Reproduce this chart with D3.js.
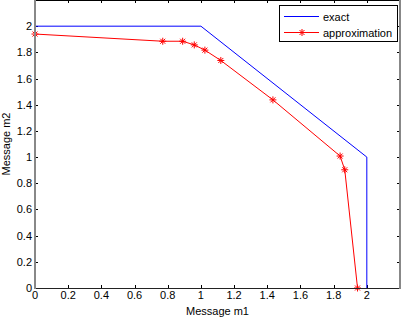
<!DOCTYPE html>
<html><head><meta charset="utf-8">
<script src="https://cdn.jsdelivr.net/npm/d3@7"></script>
<style>body{margin:0;background:#fff}svg{display:block}text{font-family:"Liberation Sans",Arial,sans-serif;font-size:11px;fill:#000}</style>
</head><body>
<script>
const exactX = [0, 1, 2, 2];
const exactY = [2, 2, 1, 0];
const approxX = [0, 0.77, 0.89, 0.96, 1.024, 1.12, 1.434, 1.839, 1.867, 1.944];
const approxY = [1.94, 1.885, 1.885, 1.857, 1.817, 1.738, 1.437, 1.008, 0.903, 0];
const xTicks = [0, 0.2, 0.4, 0.6, 0.8, 1, 1.2, 1.4, 1.6, 1.8, 2];
const yTicks = [0, 0.2, 0.4, 0.6, 0.8, 1, 1.2, 1.4, 1.6, 1.8, 2];
const seriesNames = ["exact", "approximation"];

const W = 401, H = 318;
const L = 35, R = 400, T = 0, B = 288;
const svg = d3.select("body").append("svg").attr("width", W).attr("height", H);
const x = d3.scaleLinear().domain([0, 2.2]).range([L, R]);
const y = d3.scaleLinear().domain([0, 2.2]).range([B, T]);

// ticks
const g = svg.append("g");
xTicks.forEach(v => {
  const px = Math.round(x(v)) + 0.5;
  g.append("line").attr("x1", px).attr("x2", px).attr("y1", B).attr("y2", B - 3).attr("stroke", "#000");
  g.append("line").attr("x1", px).attr("x2", px).attr("y1", T).attr("y2", T + 3).attr("stroke", "#000");
  g.append("text").attr("x", x(v)).attr("y", B + 11).attr("text-anchor", "middle").text(String(v));
});
yTicks.forEach(v => {
  const py = Math.round(y(v)) + 0.5;
  g.append("line").attr("x1", L).attr("x2", L + 3).attr("y1", py).attr("y2", py).attr("stroke", "#000");
  g.append("line").attr("x1", R).attr("x2", R - 3).attr("y1", py).attr("y2", py).attr("stroke", "#000");
  g.append("text").attr("x", L - 3).attr("y", y(v) + 4).attr("text-anchor", "end").text(String(v));
});

const line = d3.line().x(d => x(d[0])).y(d => y(d[1]));
const exact = exactX.map((v, i) => [v, exactY[i]]);
const approx = approxX.map((v, i) => [v, approxY[i]]);
svg.append("path").attr("d", line(exact)).attr("fill", "none").attr("stroke", "#0000ff").attr("stroke-width", 1);
svg.append("path").attr("d", line(approx)).attr("fill", "none").attr("stroke", "#ff0000").attr("stroke-width", 1);

function star(gs, cx, cy) {
  const s = 3.5, d = 2.5;
  const p = `M${cx - s},${cy}L${cx + s},${cy}M${cx},${cy - s}L${cx},${cy + s}M${cx - d},${cy - d}L${cx + d},${cy + d}M${cx - d},${cy + d}L${cx + d},${cy - d}`;
  gs.append("path").attr("d", p).attr("stroke", "#ff0000").attr("stroke-width", 1).attr("fill", "none");
}
const mg = svg.append("g");
approx.forEach(d => star(mg, x(d[0]), y(d[1])));

// frame
svg.append("line").attr("x1", L).attr("x2", R).attr("y1", T + 0.5).attr("y2", T + 0.5).attr("stroke", "#000");
svg.append("line").attr("x1", L).attr("x2", R + 1).attr("y1", B + 0.5).attr("y2", B + 0.5).attr("stroke", "#222");
svg.append("line").attr("x1", L).attr("x2", L).attr("y1", T).attr("y2", B + 1).attr("stroke", "#888").attr("stroke-width", 2);
svg.append("line").attr("x1", R).attr("x2", R).attr("y1", T).attr("y2", B + 1).attr("stroke", "#888").attr("stroke-width", 2);

// legend
const lg = svg.append("g");
lg.append("rect").attr("x", 279.5).attr("y", 5.5).attr("width", 118).attr("height", 36).attr("fill", "#fff").attr("stroke", "#000");
lg.append("line").attr("x1", 284).attr("x2", 319).attr("y1", 16.5).attr("y2", 16.5).attr("stroke", "#0000ff");
lg.append("line").attr("x1", 284).attr("x2", 319).attr("y1", 32.5).attr("y2", 32.5).attr("stroke", "#ff0000");
star(lg, 302, 32.5);
lg.append("text").attr("x", 323).attr("y", 20.5).text(seriesNames[0]);
lg.append("text").attr("x", 323).attr("y", 36.5).text(seriesNames[1]);

// axis labels
svg.append("text").attr("x", (L + R) / 2).attr("y", 315).attr("text-anchor", "middle").text("Message m1");
svg.append("text").attr("transform", `translate(10,${(T + B) / 2}) rotate(-90)`).attr("text-anchor", "middle").text("Message m2");
</script>
</body></html>
